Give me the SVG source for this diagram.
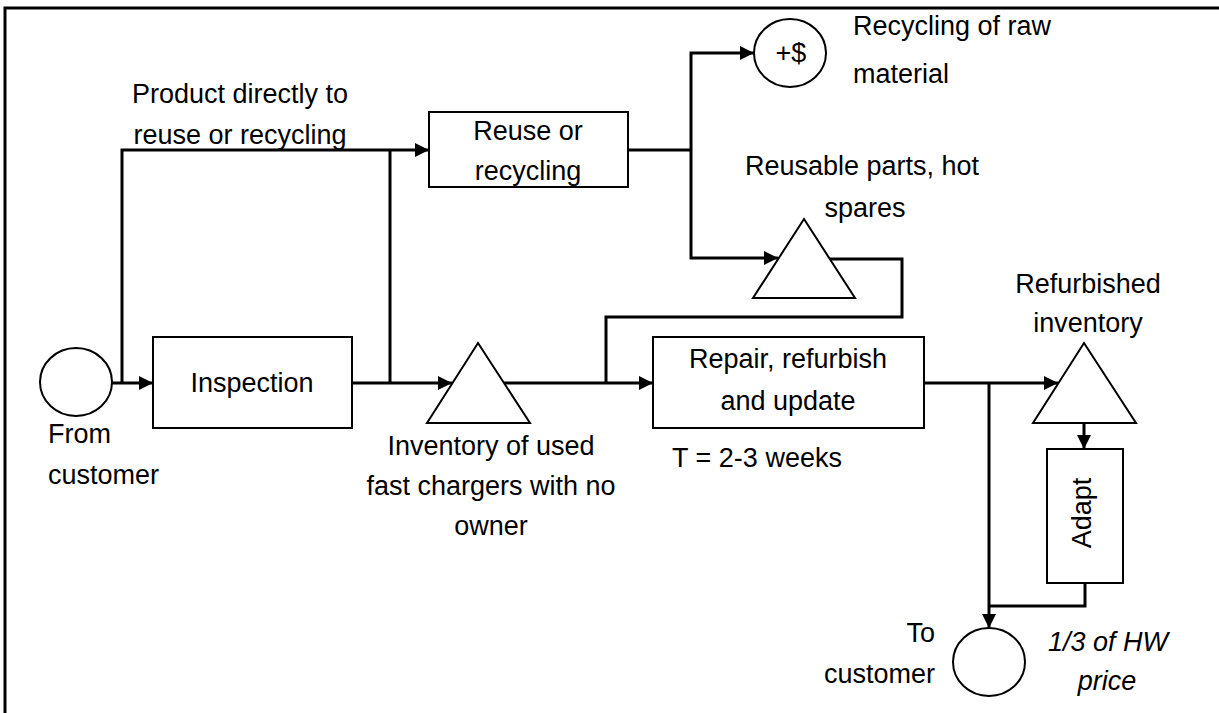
<svg xmlns="http://www.w3.org/2000/svg" width="1219" height="713" viewBox="0 0 1219 713">
<style>
text{font-family:"Liberation Sans",Arial,sans-serif;font-size:27px;fill:#000}
.mid{text-anchor:middle}
.end{text-anchor:end}
.it{font-style:italic}
.box{fill:#fff;stroke:#000;stroke-width:2}
.tri{fill:#fff;stroke:#000;stroke-width:2}
.conn path{fill:none;stroke:#000;stroke-width:3}
</style>
<defs>
<marker id="ah" viewBox="0 0 14 14" refX="14" refY="7" markerWidth="14" markerHeight="14" markerUnits="userSpaceOnUse" orient="auto">
<path d="M0,0 L14,7 L0,14 z" fill="#000"/>
</marker>
</defs>
<rect width="1219" height="713" fill="#fff"/>
<path d="M5,713 V8 H1219" fill="none" stroke="#000" stroke-width="3"/>
<g class="conn" id="connectors">
<path d="M112,383 H153" marker-end="url(#ah)"/>
<path d="M122,383 V150 H429" marker-end="url(#ah)"/>
<path d="M352,383 H452" marker-end="url(#ah)"/>
<path d="M390,383 V150"/>
<path d="M628,150 H691"/>
<path d="M691,150 V53 H754" marker-end="url(#ah)"/>
<path d="M691,150 V258 H778" marker-end="url(#ah)"/>
<path d="M829,259 H902 V317 H606 V383"/>
<path d="M503,383 H653" marker-end="url(#ah)"/>
<path d="M924,383 H1058" marker-end="url(#ah)"/>
<path d="M989,383 V628" marker-end="url(#ah)"/>
<path d="M1084,423 V449" marker-end="url(#ah)"/>
<path d="M1085,583 V606 H989"/>
</g>
<g id="from-customer">
<ellipse class="box" cx="76" cy="382" rx="36" ry="34"/>
<text x="48" y="443">From</text>
<text x="48" y="484">customer</text>
</g>
<g id="inspection">
<rect class="box" x="153" y="337" width="199" height="91"/>
<text class="mid" x="252" y="392">Inspection</text>
</g>
<g id="direct-label">
<text class="mid" x="240" y="103">Product directly to</text>
<text class="mid" x="240" y="144">reuse or recycling</text>
</g>
<g id="reuse">
<rect class="box" x="429" y="112" width="199" height="75"/>
<text class="mid" x="528" y="140">Reuse or</text>
<text class="mid" x="528" y="180">recycling</text>
</g>
<g id="raw-material">
<ellipse class="box" cx="790" cy="53" rx="36" ry="34"/>
<text class="mid" x="791" y="62">+$</text>
<text x="853" y="35">Recycling of raw</text>
<text x="853" y="83">material</text>
</g>
<g id="reusable-parts">
<polygon class="tri" points="804,219 855,298 753,298"/>
<text class="mid" x="862" y="175">Reusable parts, hot</text>
<text class="mid" x="865" y="217">spares</text>
</g>
<g id="inventory-used">
<polygon class="tri" points="478,343 530,423 427,423"/>
<text class="mid" x="491" y="455">Inventory of used</text>
<text class="mid" x="491" y="495">fast chargers with no</text>
<text class="mid" x="491" y="535">owner</text>
</g>
<g id="repair">
<rect class="box" x="653" y="337" width="271" height="91"/>
<text class="mid" x="788" y="368">Repair, refurbish</text>
<text class="mid" x="788" y="410">and update</text>
<text class="mid" x="757" y="467">T = 2-3 weeks</text>
</g>
<g id="refurbished">
<polygon class="tri" points="1084,343 1136,423 1033,423"/>
<text class="mid" x="1088" y="293">Refurbished</text>
<text class="mid" x="1088" y="332">inventory</text>
</g>
<g id="adapt">
<rect class="box" x="1047" y="449" width="76" height="134"/>
<text class="mid" transform="translate(1091,513) rotate(-90)">Adapt</text>
</g>
<g id="to-customer">
<ellipse class="box" cx="989" cy="662" rx="36" ry="34"/>
<text class="end" x="935" y="642">To</text>
<text class="end" x="935" y="683">customer</text>
<text class="mid it" x="1108" y="651">1/3 of HW</text>
<text class="mid it" x="1107" y="690">price</text>
</g>
</svg>
